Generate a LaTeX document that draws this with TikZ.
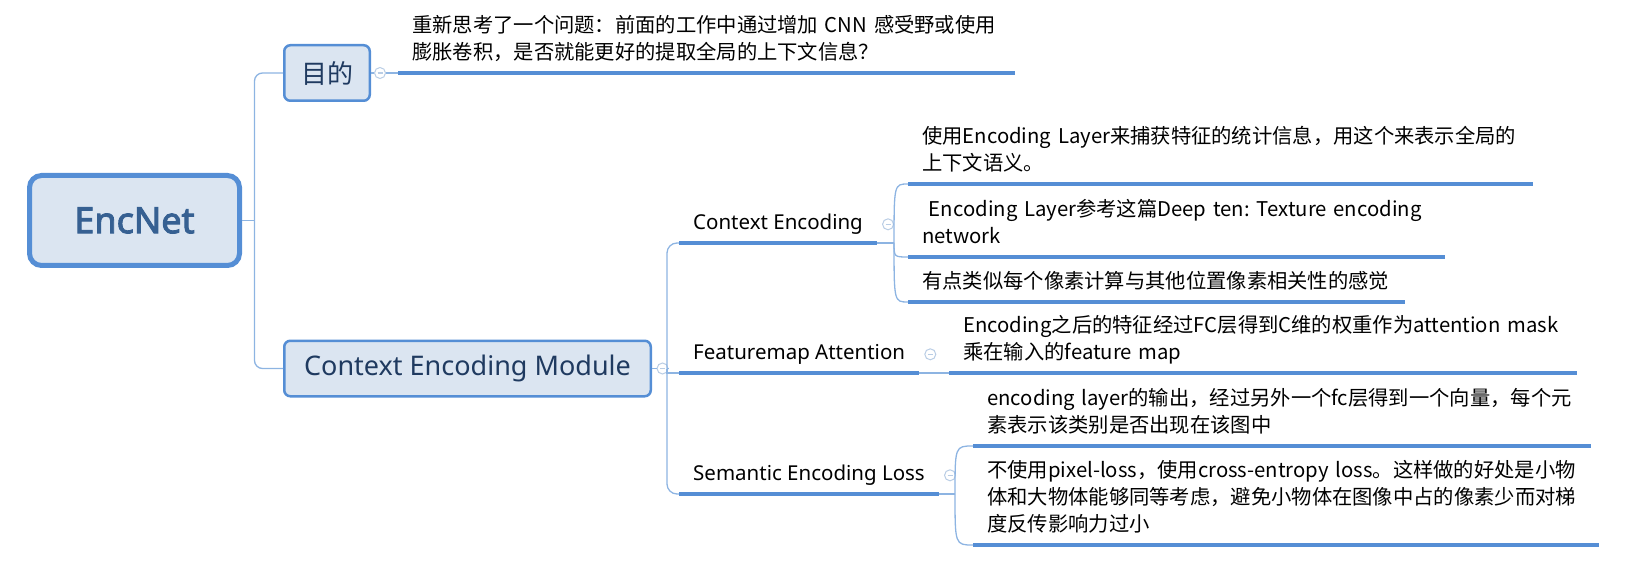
\documentclass[tikz,border=0pt]{standalone}
\usepackage{fontspec}
\setmainfont{Noto Sans CJK SC}
\newfontfamily\latinfont{Noto Sans}
\newfontfamily\rootfont{Noto Sans}[FakeBold=2.6]
\usetikzlibrary{positioning}
\frenchspacing

\definecolor{boxfill}{HTML}{DBE5F1}
\definecolor{boxline}{HTML}{558ED5}
\definecolor{roottext}{HTML}{366092}
\definecolor{topictext}{HTML}{1F3A60}
\definecolor{linkc}{HTML}{8DB4E2}
\definecolor{ulinec}{HTML}{558ED5}
\definecolor{foldc}{HTML}{B9CDE5}

\tikzset{
  root/.style={draw=boxline, fill=boxfill, line width=5pt, rounded corners=12pt,
    minimum width=210pt, minimum height=90pt, text=roottext,
    font=\rootfont\fontsize{36}{40}\selectfont},
  topic/.style={draw=boxline, fill=boxfill, line width=2.5pt, rounded corners=6pt,
    minimum height=55.5pt, text=topictext},
  branch/.style={anchor=south west, inner xsep=14pt, inner ysep=5pt,
    font=\latinfont\fontsize{20.5}{27}\selectfont, execute at end node=\strut},
  note/.style={anchor=south west, align=left, inner xsep=14pt, inner ysep=5pt,
    font=\fontsize{20.3}{27}\selectfont, execute at end node=\strut},
  link/.style={draw=linkc, line width=1.3pt},
  uline/.style={draw=ulinec, line width=4.5pt},
  fold/.style={circle, draw=foldc, fill=white, line width=1pt, minimum size=11pt,
    inner sep=0pt, path picture={\draw[foldc, line width=1.2pt]
      ([xshift=-2.5pt]path picture bounding box.center) -- ++(5,0);}},
}

\begin{document}
\begin{tikzpicture}[x=1pt, y=-1pt]
  \useasboundingbox (0,0) rectangle (1640,569);

  % main boxes
  \node[root] (enc) at (134.5,220.5) {EncNet};
  \node[topic, minimum width=85.5pt, font=\fontsize{26}{30}\selectfont] (goal) at (327,73) {目的};
  \node[topic, minimum width=366.5pt, font=\latinfont\fontsize{27}{32}\selectfont] (cem) at (467.5,368.5) {Context Encoding Module};

  % root links
  \draw[link] (enc.east) -- ++(12.5,0) coordinate (encj);
  \draw[link, rounded corners=8pt] (encj) |- (goal.west);
  \draw[link, rounded corners=8pt] (encj) |- (cem.west);

  % goal
  \node[fold, right=3pt of goal] (goalfold) {};
  \node[note, text width=589pt] (gn) at (398,73) {重新思考了一个问题：前面的工作中通过增加 CNN 感受野或使用\\膨胀卷积，是否就能更好的提取全局的上下文信息？};
  \draw[link] (goal.east) -- (goalfold.west);
  \draw[link] (goalfold.east) -- (gn.south west);

  % module branches
  \node[fold, right=4.5pt of cem] (cemfold) {};
  \coordinate (cemj) at (667,368.5);
  \node[branch] (ce) at (679,243) {Context Encoding};
  \node[branch] (fm) at (679,373) {Featuremap Attention};
  \node[branch] (se) at (679,494) {Semantic Encoding Loss};
  \draw[link] (cem.east) -- (cemfold.west);
  \draw[link] (cemfold.east) -- (cemj);
  \draw[link, rounded corners=10pt] (cemj) |- (ce.south west);
  \draw[link, rounded corners=10pt] (cemj) |- (se.south west);
  \draw[link] (cemj) |- (fm.south west);
  \node[fold, right=5pt of ce] (cefold) {};
  \node[fold, right=5pt of fm] (fmfold) {};
  \node[fold, right=5pt of se] (sefold) {};

  % notes
  \node[note, text width=597pt] (ce1) at (908,184) {使用Encoding Layer来捕获特征的统计信息，用这个来表示全局的\\上下文语义。};
  \node[note, text width=509pt] (ce2) at (908,257) {\ Encoding Layer参考这篇Deep ten: Texture encoding\\network};
  \node[note, text width=469pt] (ce3) at (908,302) {有点类似每个像素计算与其他位置像素相关性的感觉};
  \node[note, text width=600pt] (fm1) at (949,373) {Encoding之后的特征经过FC层得到C维的权重作为attention mask\\乘在输入的feature map};
  \node[note, text width=590pt] (se1) at (973,446) {encoding layer的输出，经过另外一个fc层得到一个向量，每个元\\素表示该类别是否出现在该图中};
  \node[note, text width=598pt] (se2) at (973,545) {不使用pixel-loss，使用cross-entropy loss。这样做的好处是小物\\体和大物体能够同等考虑，避免小物体在图像中占的像素少而对梯\\度反传影响力过小};

  % brackets
  \draw[link] (ce.south east) -- ++(17,0) coordinate (cej);
  \foreach \c in {ce1,ce2,ce3}
    \draw[link] (cej) .. controls (cej |- \c.south west) .. (\c.south west);
  \draw[link] (fm.south east) -- (fm1.south west);
  \draw[link] (se.south east) -- ++(16,0) coordinate (sej);
  \foreach \c in {se1,se2}
    \draw[link] (sej) .. controls (sej |- \c.south west) .. (\c.south west);

  % underlines
  \foreach \n in {gn,ce,ce1,ce2,ce3,fm,fm1,se,se1,se2}
    \draw[uline] (\n.south west) -- (\n.south east);

\end{tikzpicture}
\end{document}
